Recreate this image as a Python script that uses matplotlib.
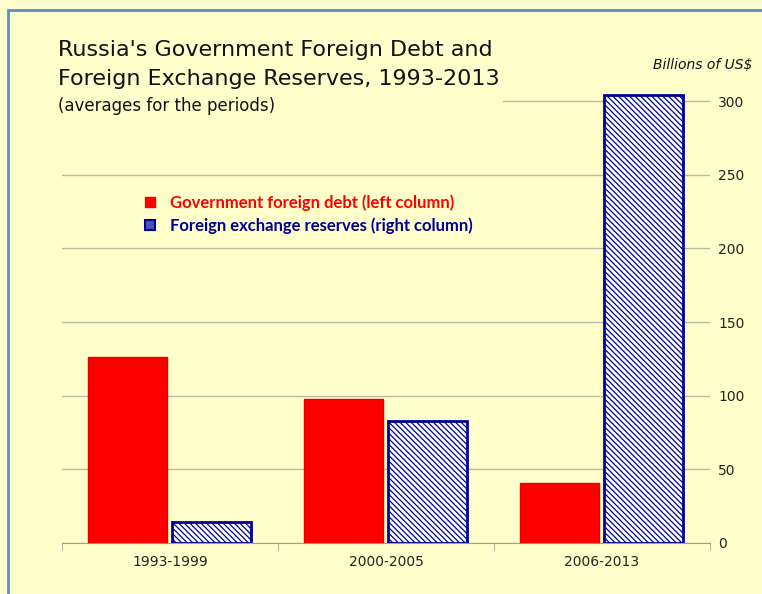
import matplotlib.pyplot as plt
import numpy as np
from matplotlib.patches import Rectangle
from matplotlib.lines import Line2D

# data (billions of US$)
periods = ['1993-1999', '2000-2005', '2006-2013']
gov_debt = [126, 98, 41]
fx_reserves = [14, 83, 304]
yticks = [0, 50, 100, 150, 200, 250, 300]

bg = '#FFFFCC'
red = '#FF0000'
navy = '#000099'

plt.rcParams['font.family'] = ['DejaVu Sans']
plt.rcParams['hatch.linewidth'] = 0.9

fig = plt.figure(figsize=(7.62, 5.94), dpi=100)
fig.patch.set_facecolor(bg)
ax = fig.add_axes([0.0814, 0.0859, 0.8504, 0.7688])
ax.set_facecolor(bg)

x = np.arange(len(periods))
w = 0.366
ax.bar(x - 0.197, gov_debt, w, color=red, edgecolor='#E00000', linewidth=1, zorder=3)
ax.bar(x + 0.194, fx_reserves, w, color='white', edgecolor=navy, linewidth=2,
       hatch='\\\\\\\\\\\\', zorder=3)

ax.set_xlim(-0.5, 2.5)
ax.set_ylim(0, 310)
ax.set_yticks(yticks)
ax.yaxis.tick_right()
ax.tick_params(axis='y', length=0, pad=6, labelsize=10, colors='#222222')
ax.grid(axis='y', color='#B8B8A8', linewidth=1, zorder=0)

ax.set_xticks(x)
ax.set_xticklabels(periods)
ax.set_xticks([-0.5, 0.5, 1.5, 2.5], minor=True)
ax.tick_params(axis='x', which='major', length=0, pad=9, labelsize=10, colors='#222222')
ax.tick_params(axis='x', which='minor', length=5, color='#A0A090', direction='out')

for s in ['top', 'left', 'right']:
    ax.spines[s].set_visible(False)
ax.spines['bottom'].set_color('#A0A090')

# box behind the title hides the top gridline
fig.patches.append(Rectangle((40 / 762, 1 - 112 / 594), 463 / 762, 82 / 594,
                             transform=fig.transFigure, facecolor=bg,
                             edgecolor='none', zorder=1))

fig.text(58 / 762, 1 - 50 / 594, "Russia's Government Foreign Debt and",
         fontsize=16, va='center', color='#111111', zorder=2)
fig.text(58 / 762, 1 - 79 / 594, "Foreign Exchange Reserves, 1993-2013",
         fontsize=16, va='center', color='#111111', zorder=2)
fig.text(58 / 762, 1 - 106 / 594, "(averages for the periods)",
         fontsize=12, va='center', color='#111111', zorder=2)
fig.text(752 / 762, 1 - 65 / 594, "Billions of US$", fontsize=10,
         style='italic', ha='right', va='center', color='#111111')

handles = [Line2D([], [], marker='s', linestyle='none', markersize=7,
                  markerfacecolor=red, markeredgecolor=red),
           Line2D([], [], marker='s', linestyle='none', markersize=7,
                  markerfacecolor='#5050B0', markeredgecolor=navy,
                  markeredgewidth=1.5)]
leg = ax.legend(handles, ['Government foreign debt (left column)',
                          'Foreign exchange reserves (right column)'],
                loc='upper left', bbox_to_anchor=(127 / 762, 1 - 179 / 594),
                bbox_transform=fig.transFigure, frameon=False,
                prop={'family': 'Lato', 'weight': 'bold', 'size': 12},
                labelcolor=[red, navy], handlelength=1, handletextpad=0.65,
                labelspacing=0.4)

# blue frame around the picture
fig.patches.append(Rectangle((8 / 762, -0.1), 1.2, 1 - 10 / 594 + 0.1,
                             transform=fig.transFigure, facecolor='none',
                             edgecolor='#5B8BD0', linewidth=2, zorder=5))

fig.savefig('out.png', dpi=100, facecolor=bg)
